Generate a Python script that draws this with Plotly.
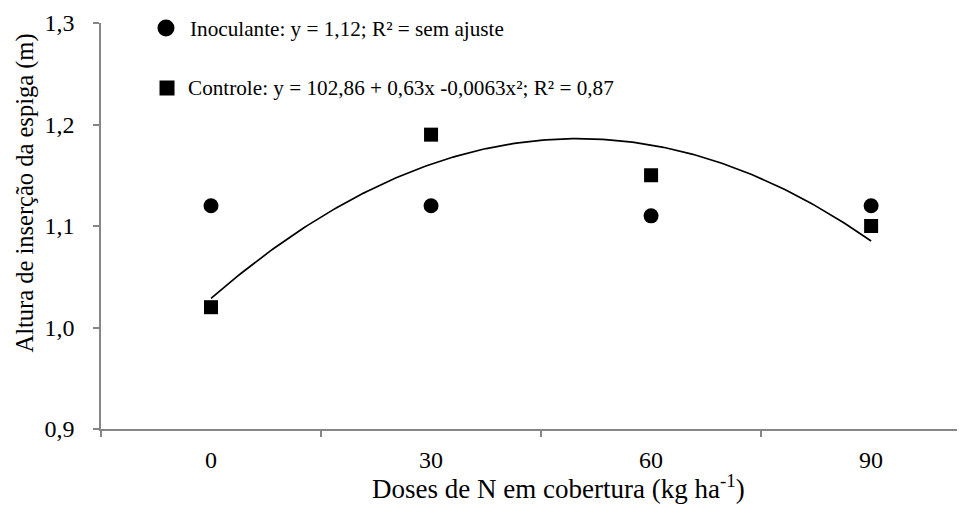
import numpy as np
import plotly.graph_objects as go

doses = [0, 30, 60, 90]
inoculante = [1.12, 1.12, 1.11, 1.12]
controle = [1.02, 1.19, 1.15, 1.10]
# fitted equation coefficients (cm): y = a + b x + c x^2
fit_coef = [102.86, 0.63, -0.0063]
y_ticks = [0.9, 1.0, 1.1, 1.2, 1.3]
y_ticktext = ["0,9", "1,0", "1,1", "1,2", "1,3"]
x_ticktext = ["0", "30", "60", "90"]
legend_labels = ["Inoculante: y = 1,12; R² = sem ajuste",
                 "Controle: y = 102,86 + 0,63x -0,0063x²; R² = 0,87"]

xc = np.linspace(0, 90, 200)
yc = (fit_coef[0] + fit_coef[1] * xc + fit_coef[2] * xc ** 2) / 100.0

FONT = "Liberation Serif"
AX = "#868686"

fig = go.Figure()
fig.add_trace(go.Scatter(x=xc, y=yc, mode="lines", line=dict(color="black", width=1.7),
                         showlegend=False, hoverinfo="skip"))
fig.add_trace(go.Scatter(x=doses, y=inoculante, mode="markers",
                         marker=dict(symbol="circle", size=15, color="black"),
                         name=legend_labels[0], showlegend=False))
fig.add_trace(go.Scatter(x=doses, y=controle, mode="markers",
                         marker=dict(symbol="square", size=14, color="black"),
                         name=legend_labels[1], showlegend=False))

fig.update_layout(
    width=965, height=511,
    margin=dict(l=93, r=8, t=15, b=90),
    paper_bgcolor="white", plot_bgcolor="white",
    font=dict(family=FONT, size=22, color="black"),
    showlegend=False,
)
fig.update_xaxes(
    range=[-15, 102.8], tickvals=doses, ticktext=x_ticktext, ticks="",
    showline=True, linecolor=AX, linewidth=1.5, showgrid=False, zeroline=False,
    tickfont=dict(family=FONT, size=24), ticklabelstandoff=8, automargin=False,
    minor=dict(tickvals=[-15, 15, 45, 75], ticks="outside", ticklen=6, tickcolor=AX, tickwidth=1.5),
)
fig.update_yaxes(
    range=[0.9, 1.3], tickvals=y_ticks, ticktext=y_ticktext, ticks="outside",
    ticklen=6, tickcolor=AX, tickwidth=1.5, automargin=False,
    showline=True, linecolor=AX, linewidth=1.5, showgrid=False, zeroline=False,
    tickfont=dict(family=FONT, size=24), ticklabelstandoff=14,
)

# legend (drawn manually so it can sit close to the top edge)
fig.add_shape(type="circle", xref="paper", yref="paper", xsizemode="pixel", ysizemode="pixel",
              xanchor=0.0752, yanchor=0.9877, x0=-8.5, x1=8.5, y0=-8.5, y1=8.5,
              fillcolor="black", line=dict(width=0))
fig.add_shape(type="rect", xref="paper", yref="paper", xsizemode="pixel", ysizemode="pixel",
              xanchor=0.0764, yanchor=0.8399, x0=-7.5, x1=7.5, y0=-7.5, y1=7.5,
              fillcolor="black", line=dict(width=0))
fig.add_annotation(text=legend_labels[0], xref="paper", yref="paper", x=0.1005, y=0.984,
                   xanchor="left", yanchor="middle", showarrow=False,
                   font=dict(family=FONT, size=21.2, color="black"))
fig.add_annotation(text=legend_labels[1], xref="paper", yref="paper", x=0.098, y=0.8387,
                   xanchor="left", yanchor="middle", showarrow=False,
                   font=dict(family=FONT, size=21.2, color="black"))

fig.add_annotation(text="Altura de inserção da espiga (m)", xref="paper", yref="paper",
                   x=-0.088, y=0.5825, xanchor="center", yanchor="middle", textangle=-90,
                   showarrow=False, font=dict(family=FONT, size=24.5, color="black"))
fig.add_annotation(text="Doses de N em cobertura (kg ha<sup>-1</sup>)", xref="paper", yref="paper",
                   x=0.529, y=-0.142, xanchor="center", yanchor="middle", showarrow=False,
                   font=dict(family=FONT, size=27, color="black"))
fig.write_html("out.html")
